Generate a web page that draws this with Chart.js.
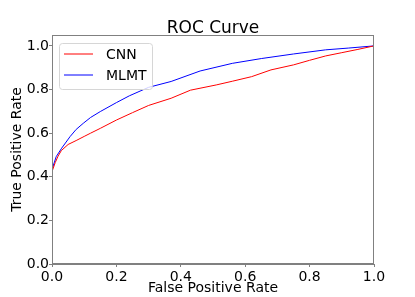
<!DOCTYPE html>
<html>
<head>
<meta charset="utf-8">
<script src="https://cdn.jsdelivr.net/npm/chart.js@4/dist/chart.umd.min.js"></script>
<style>
html,body{margin:0;padding:0;background:#fff;}
#wrap{width:415px;height:297px;}
</style>
</head>
<body>
<div id="wrap"><canvas id="c" width="415" height="297"></canvas></div>
<script>
const titleText = "ROC Curve";
const xLabel = "False Positive Rate";
const yLabel = "True Positive Rate";
const seriesNames = ["CNN", "MLMT"];
const tickValues = [0, 0.2, 0.4, 0.6, 0.8, 1.0];

const cnnFpr = [0, 0, 0.003, 0.01, 0.019, 0.029, 0.05, 0.075, 0.1, 0.12, 0.15, 0.2, 0.25, 0.3, 0.37, 0.43, 0.51, 0.56, 0.62, 0.68, 0.75, 0.8, 0.85, 0.9, 0.95, 1.0];
const cnnTpr = [0, 0.405, 0.43, 0.465, 0.495, 0.52, 0.548, 0.566, 0.585, 0.6, 0.622, 0.66, 0.694, 0.727, 0.76, 0.797, 0.821, 0.838, 0.859, 0.89, 0.913, 0.934, 0.954, 0.969, 0.984, 1.0];

const mlmtFpr = [0, 0, 0.003, 0.013, 0.03, 0.056, 0.075, 0.097, 0.12, 0.15, 0.2, 0.24, 0.3, 0.37, 0.46, 0.56, 0.65, 0.75, 0.85, 0.92, 1.0];
const mlmtTpr = [0, 0.41, 0.44, 0.492, 0.531, 0.584, 0.617, 0.645, 0.672, 0.699, 0.74, 0.771, 0.81, 0.837, 0.885, 0.92, 0.942, 0.963, 0.982, 0.99, 1.0];

const seriesColors = ["#ff0000", "#0000ff"];

function toPoints(xs, ys){ return xs.map((x,i)=>({x:x, y:ys[i]})); }

const FONT = "'DejaVu Sans', sans-serif";
const SPINE = "#808080";

const framePlugin = {
  id: 'frame',
  afterDraw(chart){
    const ctx = chart.ctx, a = chart.chartArea;
    ctx.save();
    ctx.strokeStyle = SPINE;
    ctx.lineWidth = 1;
    ctx.strokeRect(Math.round(a.left)+0.5, Math.round(a.top)+0.5, Math.round(a.right-a.left)-1, Math.round(a.bottom-a.top)-1);
    // legend
    const lx = a.left + 7, ly = a.top + 8, lw = 93, lh = 46;
    ctx.beginPath();
    ctx.roundRect(lx+0.5, ly+0.5, lw, lh, 3);
    ctx.fillStyle = 'rgba(255,255,255,0.8)';
    ctx.fill();
    ctx.strokeStyle = '#d6d6d6';
    ctx.stroke();
    ctx.font = "14px " + FONT;
    ctx.textBaseline = 'middle';
    ctx.textAlign = 'left';
    seriesNames.forEach((n,i)=>{
      const yy = ly + 11 + i*21;
      ctx.beginPath();
      ctx.moveTo(lx+5, yy);
      ctx.lineTo(lx+34, yy);
      ctx.strokeStyle = seriesColors[i];
      ctx.lineWidth = 1;
      ctx.stroke();
      ctx.fillStyle = '#000';
      ctx.fillText(n, lx+47, yy+1);
    });
    // title
    ctx.font = "17px " + FONT;
    ctx.textAlign = 'center';
    ctx.textBaseline = 'middle';
    ctx.fillStyle = '#000';
    ctx.fillText(titleText, (a.left+a.right)/2, 28.5);
    ctx.restore();
  }
};

new Chart(document.getElementById('c'), {
  type: 'scatter',
  data: {
    datasets: [
      {label: seriesNames[0], data: toPoints(cnnFpr, cnnTpr), showLine: true, borderColor: seriesColors[0], borderWidth: 1, pointRadius: 0, tension: 0, fill: false},
      {label: seriesNames[1], data: toPoints(mlmtFpr, mlmtTpr), showLine: true, borderColor: seriesColors[1], borderWidth: 1, pointRadius: 0, tension: 0, fill: false}
    ]
  },
  options: {
    responsive: false,
    animation: false,
    devicePixelRatio: 1,
    layout: {padding: {top: 35, right: 41, bottom: 0, left: 0}},
    plugins: {legend: {display: false}, title: {display: false}, tooltip: {enabled: false}},
    scales: {
      x: {
        type: 'linear', min: 0, max: 1,
        afterBuildTicks(s){ s.ticks = tickValues.map(v=>({value:v})); },
        afterFit(s){ s.height = 33; },
        ticks: {color: '#000', font: {family: FONT, size: 14}, padding: 2, maxRotation: 0, callback: v => v.toFixed(1)},
        grid: {drawOnChartArea: false, drawTicks: true, tickLength: 3, color: SPINE},
        border: {display: true, color: SPINE},
        title: {display: true, text: xLabel, color: '#000', font: {family: FONT, size: 14, lineHeight: 1.2}, padding: {top: 0, bottom: 0}}
      },
      y: {
        type: 'linear', min: 0, max: 1.05,
        afterBuildTicks(s){ s.ticks = tickValues.map(v=>({value:v})); },
        afterFit(s){ s.width = 52; },
        ticks: {color: '#000', font: {family: FONT, size: 14}, padding: 0, callback: v => v.toFixed(1)},
        grid: {drawOnChartArea: false, drawTicks: true, tickLength: 3, color: SPINE},
        border: {display: true, color: SPINE},
        title: {display: true, text: yLabel, color: '#000', font: {family: FONT, size: 14, lineHeight: 1.2}, padding: {top: 9, bottom: 0}}
      }
    }
  },
  plugins: [framePlugin]
});
</script>
</body>
</html>
